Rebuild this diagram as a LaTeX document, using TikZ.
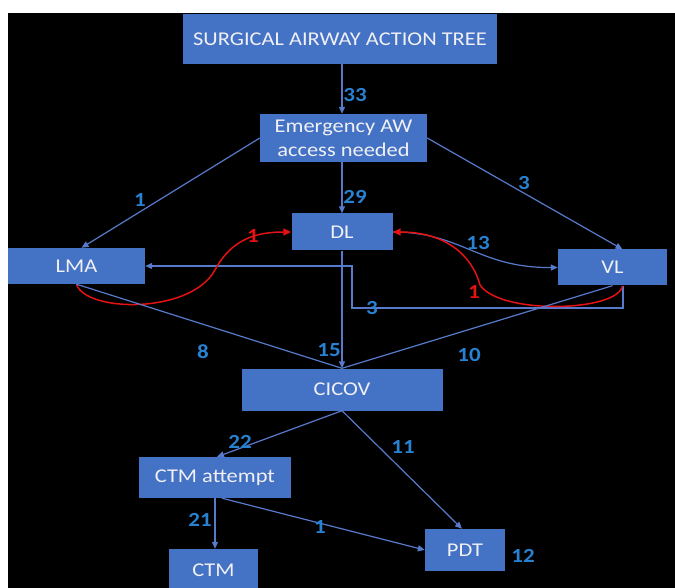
\documentclass[tikz,border=0pt]{standalone}
\usepackage{fontspec}
\setmainfont{Carlito}[FakeStretch=1.15]
\usetikzlibrary{arrows.meta,calc}
\definecolor{boxblue}{RGB}{68,114,196}
\definecolor{lineblue}{RGB}{88,122,204}
\definecolor{lblblue}{RGB}{40,130,210}
\definecolor{redline}{RGB}{228,18,18}
\definecolor{txtw}{RGB}{240,240,245}
\begin{document}
\begin{tikzpicture}[x=1pt,y=-1pt,
  box/.style={fill=boxblue,draw=none,text=txtw,font=\fontsize{19.5}{24}\selectfont,inner sep=0pt,align=center},
  conn/.style={draw=lineblue,line width=1.2pt,-{Triangle[length=7pt,width=6pt]}},
  plainline/.style={draw=lineblue,line width=1.2pt},
  redarrow/.style={draw=redline,line width=1.5pt,-{Triangle[length=8pt,width=7pt]}},
  lbl/.style={text=lblblue,font=\bfseries\fontsize{20}{22}\selectfont,inner sep=0pt},
  redlbl/.style={text=redline,font=\bfseries\fontsize{20}{22}\selectfont,inner sep=0pt}]
\useasboundingbox (0,0) rectangle (675,588);
\fill[white] (0,0) rectangle (675,588);
\fill[black] (8,13) rectangle (675,588);

\node[box,minimum width=314pt,minimum height=50pt] (title) at (340,39) {SURGICAL AIRWAY ACTION TREE};
\node[box,minimum width=167pt,minimum height=48pt] (emerg) at (343.5,138) {Emergency AW\\access needed};
\node[box,minimum width=101pt,minimum height=37pt] (DL) at (342,232) {DL};
\node[box,minimum width=137pt,minimum height=36pt] (LMA) at (76.5,266) {LMA};
\node[box,minimum width=109pt,minimum height=36pt] (VL) at (612.5,267.5) {VL};
\node[box,minimum width=201pt,minimum height=42pt] (CICOV) at (342,389.5) {CICOV};
\node[box,minimum width=152pt,minimum height=41pt] (CTMa) at (215,477.5) {CTM attempt};
\node[box,minimum width=89pt,minimum height=42pt] (CTM) at (213.5,570) {CTM};
\node[box,minimum width=80pt,minimum height=42pt] (PDT) at (465,550) {PDT};

% connectors
\draw[conn] (title.south -| DL.north) -- (emerg.north -| DL.north);
\draw[conn] (emerg.south -| DL.north) -- (DL.north);
\draw[conn] (emerg.west) -- ($(LMA.north)+(5,0)$);
\draw[conn] (emerg.east) -- ($(VL.north)+(10,0)$);
\draw[conn] (DL.east) .. controls (462,232) and (478,268) .. (VL.west);
\draw[conn] ($(VL.south)+(10.5,0)$) |- (352,308) |- (LMA.east);
\draw[redarrow] (LMA.south) .. controls (85,312) and (190,315) .. (215,270) .. controls (232,238) and (258,232) .. (DL.west);
\draw[redarrow] ($(VL.south)+(10,0)$) .. controls (618,312) and (500,315) .. (480,285) .. controls (472,255) and (445,232) .. (DL.east);
\draw[plainline] (LMA.south) -- (CICOV.north);
\draw[plainline] (VL.south) -- (CICOV.north);
\draw[conn] (DL.south) -- (CICOV.north);
\draw[conn] (CICOV.south) -- ($(CTMa.north)+(2,0)$);
\draw[conn] (CICOV.south) -- ($(PDT.north)+(-3,0)$);
\draw[conn] (CTMa.south) -- (CTMa.south |- CTM.north);
\draw[conn] ($(CTMa.south)+(7,0)$) -- (PDT.west);

% labels
\node[lbl] (n33) at (355,95) {33};
\node[lbl] (n29) at (355,197) {29};
\node[lbl] (n1a) at (140,200) {1};
\node[lbl] (n3a) at (524,183) {3};
\node[redlbl] (r1a) at (253,236) {1};
\node[lbl] (n13) at (478,243) {13};
\node[redlbl] (r1b) at (474,292) {1};
\node[lbl] (n3b) at (372,308) {3};
\node[lbl] (n8) at (203,352) {8};
\node[lbl] (n15) at (329,350) {15};
\node[lbl] (n10) at (469,355) {10};
\node[lbl] (n22) at (240,442) {22};
\node[lbl] (n11) at (403,447) {11};
\node[lbl] (n21) at (200,520) {21};
\node[lbl] (n1c) at (320,527) {1};
\node[lbl] (n12) at (523,556) {12};
\end{tikzpicture}
\end{document}
